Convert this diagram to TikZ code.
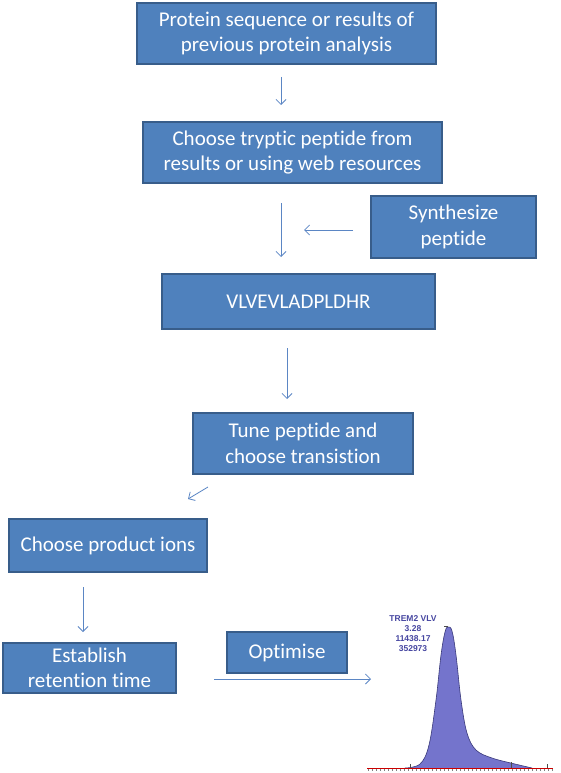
\documentclass[tikz,border=0pt]{standalone}
\usepackage{fontspec}
\setmainfont{Carlito}[Ligatures=NoCommon]
\newfontfamily\arialfont{Liberation Sans}
\usetikzlibrary{arrows.meta}
\definecolor{boxfill}{HTML}{4F81BD}
\definecolor{boxline}{HTML}{385D8A}
\definecolor{arrowc}{HTML}{5B86C4}
\definecolor{peakfill}{HTML}{7474CC}
\definecolor{peakline}{HTML}{3A3A7A}
\definecolor{labelc}{HTML}{4545A0}
\tikzset{
  flowbox/.style={draw=boxline, line width=1.2pt, fill=boxfill, text=white,
    align=center, inner sep=0pt, font=\fontsize{21}{25.5}\selectfont},
  flowarrow/.style={draw=arrowc, line width=0.8pt, -{Straight Barb[length=5pt,width=10pt]}},
}
\begin{document}
\begin{tikzpicture}[x=1pt,y=-1pt]
\useasboundingbox (0,0) rectangle (560,773);
% boxes
\node[flowbox, minimum width=299, minimum height=61] (b1) at (286.5,33.5) {Protein sequence or results of\\previous protein analysis};
\node[flowbox, minimum width=299, minimum height=61] (b2) at (292.5,152.5) {Choose tryptic peptide from\\results or using web resources};
\node[flowbox, minimum width=165, minimum height=62] (syn) at (453.5,227) {Synthesize\\peptide};
\node[flowbox, minimum width=273, minimum height=55] (vlv) at (298.5,301.5) {VLVEVLADPLDHR};
\node[flowbox, minimum width=220, minimum height=61] (tune) at (303,443.5) {Tune peptide and\\choose transistion};
\node[flowbox, minimum width=198, minimum height=53] (prod) at (108,545.5) {Choose product ions};
\node[flowbox, minimum width=173, minimum height=50] (est) at (89.5,668) {Establish\\retention time};
\node[flowbox, minimum width=120, minimum height=41] (opt) at (287,652.5) {Optimise};
% arrow end points
\coordinate (a1s) at (281,77);  \coordinate (a1e) at (281,105);
\coordinate (a2s) at (281,203); \coordinate (a2e) at (281,257);
\coordinate (a3s) at (353,230); \coordinate (a3e) at (304,230);
\coordinate (a4s) at (287,348); \coordinate (a4e) at (287,399);
\coordinate (a5s) at (208,487); \coordinate (a5e) at (188,499);
\coordinate (a6s) at (83,587);  \coordinate (a6e) at (83,632);
\coordinate (a7s) at (214,679); \coordinate (a7e) at (371,679);
\draw[flowarrow] (a1s) -- (a1e);
\draw[flowarrow] (a2s) -- (a2e);
\draw[flowarrow] (a3s) -- (a3e);
\draw[flowarrow] (a4s) -- (a4e);
\draw[flowarrow] (a5s) -- (a5e);
\draw[flowarrow] (a6s) -- (a6e);
\draw[flowarrow] (a7s) -- (a7e);
% chromatogram
\fill[peakfill] plot[smooth, tension=0.6] coordinates {(405,768) (420,764) (429,745) (436,700) (441,655) (445,632) (448,627) (452,631) (456,655) (461,700) (467,733) (476,750) (492,758) (515,764) (532,768)} -- cycle;
\draw[peakline, line width=0.6pt] plot[smooth, tension=0.6] coordinates {(405,768) (420,764) (429,745) (436,700) (441,655) (445,632) (448,627) (452,631) (456,655) (461,700) (467,733) (476,750) (492,758) (515,764) (532,768)};
\foreach \x in {368,372,...,552} \draw[gray, line width=0.4pt] (\x,768) -- (\x,771);
\draw[red!80!black, line width=0.9pt] (367,768) -- (553,768);
\draw[gray!60!black, line width=0.5pt] (410,764) -- (410,768);
\draw[gray!60!black, line width=0.5pt] (511,762) -- (511,768);
\draw[gray!60!black, line width=0.5pt] (547,764) -- (547,768);
\draw[gray!60!black, line width=0.5pt] (444,626) -- (448,626);
\node[text=labelc, align=center, inner sep=0pt, font=\arialfont\bfseries\fontsize{8.5}{10}\selectfont] (lab) at (413,634) {TREM2 VLV\\3.28\\11438.17\\352973};
\end{tikzpicture}
\end{document}
